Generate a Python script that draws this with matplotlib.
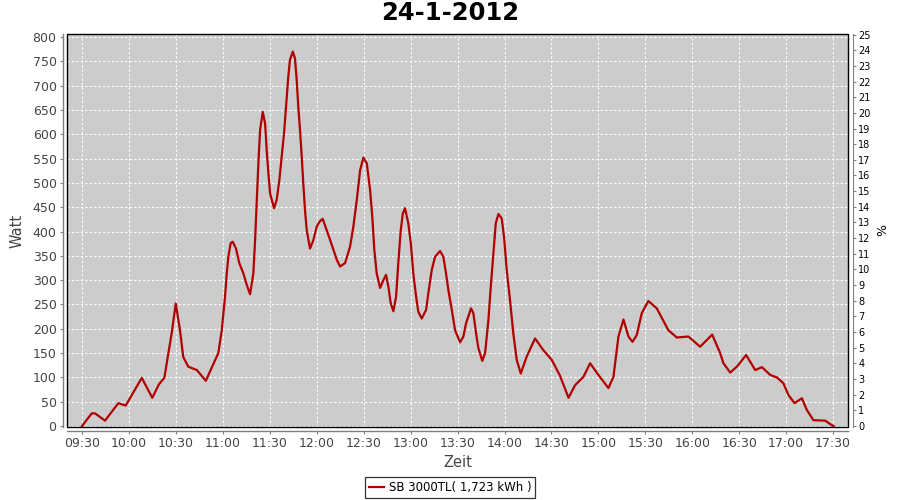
import matplotlib
matplotlib.use("Agg")
import matplotlib.pyplot as plt
from matplotlib.patches import Rectangle

title = "24-1-2012"
series_name = "SB 3000TL( 1,723 kWh )"
x_ticks = ["09:30", "10:00", "10:30", "11:00", "11:30", "12:00", "12:30", "13:00",
           "13:30", "14:00", "14:30", "15:00", "15:30", "16:00", "16:30", "17:00", "17:30"]
y_ticks = list(range(0, 801, 50))
pct_ticks = list(range(0, 26))

times = [
    "09:30:00", "09:36:12", "09:38:18", "09:44:42", "09:53:12", "09:57:54", "10:08:12", "10:14:54",
    "10:19:12", "10:22:36", "10:26:12", "10:27:18", "10:29:54", "10:32:36", "10:34:42", "10:37:54",
    "10:43:24", "10:49:06", "10:57:06", "10:59:18", "11:01:24", "11:02:30", "11:03:30", "11:05:00",
    "11:06:18", "11:08:24", "11:10:30", "11:13:06", "11:15:18", "11:17:24", "11:19:30", "11:20:36",
    "11:21:36", "11:22:42", "11:23:48", "11:25:30", "11:27:00", "11:28:00", "11:29:06", "11:30:12",
    "11:32:42", "11:34:24", "11:36:06", "11:37:36", "11:39:06", "11:40:24", "11:41:48", "11:42:54",
    "11:44:42", "11:46:06", "11:47:12", "11:48:12", "11:49:18", "11:50:24", "11:51:24", "11:52:30",
    "11:53:36", "11:55:42", "11:57:48", "12:00:00", "12:01:42", "12:03:48", "12:08:30", "12:12:48",
    "12:14:54", "12:18:06", "12:21:18", "12:23:24", "12:25:36", "12:27:42", "12:29:48", "12:32:00",
    "12:34:06", "12:35:30", "12:36:48", "12:38:18", "12:40:30", "12:42:36", "12:44:18", "12:45:48",
    "12:47:18", "12:49:00", "12:50:42", "12:52:06", "12:53:42", "12:55:00", "12:56:24", "12:58:30",
    "13:00:06", "13:01:42", "13:03:30", "13:04:54", "13:07:06", "13:09:54", "13:11:18", "13:13:30",
    "13:15:36", "13:18:48", "13:20:54", "13:22:36", "13:24:06", "13:26:18", "13:28:24", "13:31:36",
    "13:33:42", "13:35:24", "13:38:36", "13:40:06", "13:41:48", "13:43:18", "13:45:48", "13:47:36",
    "13:49:42", "13:51:12", "13:52:54", "13:54:24", "13:56:06", "13:58:12", "13:59:42", "14:01:24",
    "14:03:30", "14:05:36", "14:07:48", "14:10:24", "14:14:12", "14:19:30", "14:24:48", "14:30:12",
    "14:35:30", "14:40:54", "14:45:06", "14:50:24", "14:54:42", "15:00:00", "15:06:24", "15:09:36",
    "15:12:48", "15:16:00", "15:19:12", "15:21:48", "15:24:30", "15:27:42", "15:31:54", "15:37:18",
    "15:44:42", "15:50:06", "15:57:30", "16:05:00", "16:12:42", "16:17:48", "16:19:54", "16:24:12",
    "16:28:30", "16:34:24", "16:40:12", "16:44:30", "16:49:48", "16:54:00", "16:58:12", "17:01:24",
    "17:05:18", "17:10:00", "17:13:12", "17:17:24", "17:24:54", "17:28:06", "17:30:12"]
watts = [
    0, 26, 26, 11, 47, 42, 99, 58,
    86, 99, 170, 191, 252, 197, 142, 122,
    115, 93, 150, 197, 266, 314, 348, 376,
    379, 365, 335, 314, 290, 271, 314, 382,
    458, 540, 609, 646, 622, 568, 520, 478,
    448, 465, 506, 554, 602, 657, 718, 753,
    770, 756, 711, 657, 609, 554, 499, 444,
    403, 365, 382, 410, 420, 426, 383, 342,
    328, 335, 369, 410, 465, 526, 552, 540,
    485, 430, 362, 314, 284, 300, 311, 286,
    252, 236, 266, 335, 403, 437, 448, 417,
    376, 314, 266, 235, 221, 239, 273, 321,
    348, 360, 348, 314, 280, 239, 197, 172,
    184, 211, 242, 232, 191, 160, 134, 150,
    218, 286, 355, 417, 436, 427, 389, 321,
    259, 191, 136, 108, 143, 180, 156, 136,
    103, 58, 84, 101, 129, 105, 78, 101,
    184, 219, 184, 173, 187, 232, 257, 242,
    197, 182, 184, 163, 188, 150, 129, 110,
    122, 146, 115, 121, 105, 100, 88, 64,
    47, 57, 33, 12, 11, 4, 0]


def to_min(s):
    parts = [int(p) for p in s.split(":")]
    while len(parts) < 3:
        parts.append(0)
    return parts[0] * 60 + parts[1] + parts[2] / 60.0


xs = [to_min(t) for t in times]
xt = [to_min(t) for t in x_ticks]

fig = plt.figure(figsize=(9, 5), dpi=100)
ax = fig.add_axes([67 / 900, 1 - 427 / 500, 781 / 900, 393 / 500])
ax.set_facecolor("#CCCCCC")

ax.plot(xs, watts, color="#B00000", lw=1.6, solid_joinstyle="round")

ax.set_xlim(560.4, 1059.5)
ax.set_ylim(-2.06, 806.2)
ax.set_xticks(xt)
ax.set_xticklabels(x_ticks)
ax.set_yticks(y_ticks)
ax.grid(True, color="white", linestyle=(0, (2, 2)), linewidth=0.8)
ax.set_axisbelow(True)

gray = "#7f7f7f"
for side in ["left", "bottom"]:
    ax.spines[side].set_position(("outward", 3))
    ax.spines[side].set_color(gray)
    ax.spines[side].set_linewidth(1.0)
for side in ["top", "right"]:
    ax.spines[side].set_visible(False)
ax.tick_params(axis="both", colors=gray, length=2.5, width=0.8, labelsize=9,
               labelcolor="#444444", pad=2)

ax.add_patch(Rectangle((0, 0), 1, 1, transform=ax.transAxes, fill=False,
                       edgecolor="black", lw=1.0, clip_on=False, zorder=5))

ax.set_ylabel("Watt", fontsize=10.5, color="#444444", labelpad=6)
ax.set_xlabel("Zeit", fontsize=10.5, color="#444444", labelpad=3)

ax2 = ax.twinx()
ax2.set_ylim(-2.06 / 32.2, 806.2 / 32.2)
ax2.set_yticks(pct_ticks)
for side in ["left", "top", "bottom"]:
    ax2.spines[side].set_visible(False)
ax2.spines["right"].set_position(("outward", 3.5))
ax2.spines["right"].set_color(gray)
ax2.tick_params(axis="y", colors=gray, length=2, width=0.8, labelsize=7,
                labelcolor="black", pad=2)
ax2.set_ylabel("%", fontsize=9, color="black", labelpad=4)

fig.suptitle(title, fontsize=17.5, fontweight="bold", y=0.997, va="top")

leg = fig.legend([ax.lines[0]], [series_name], loc="center",
                 bbox_to_anchor=(0.5, 1 - 487.5 / 500), fontsize=8.5,
                 frameon=True, fancybox=False, edgecolor="black",
                 handlelength=1.3, handletextpad=0.4, borderpad=0.35,
                 borderaxespad=0)
leg.get_frame().set_linewidth(0.9)

fig.savefig("out.png", dpi=100)
